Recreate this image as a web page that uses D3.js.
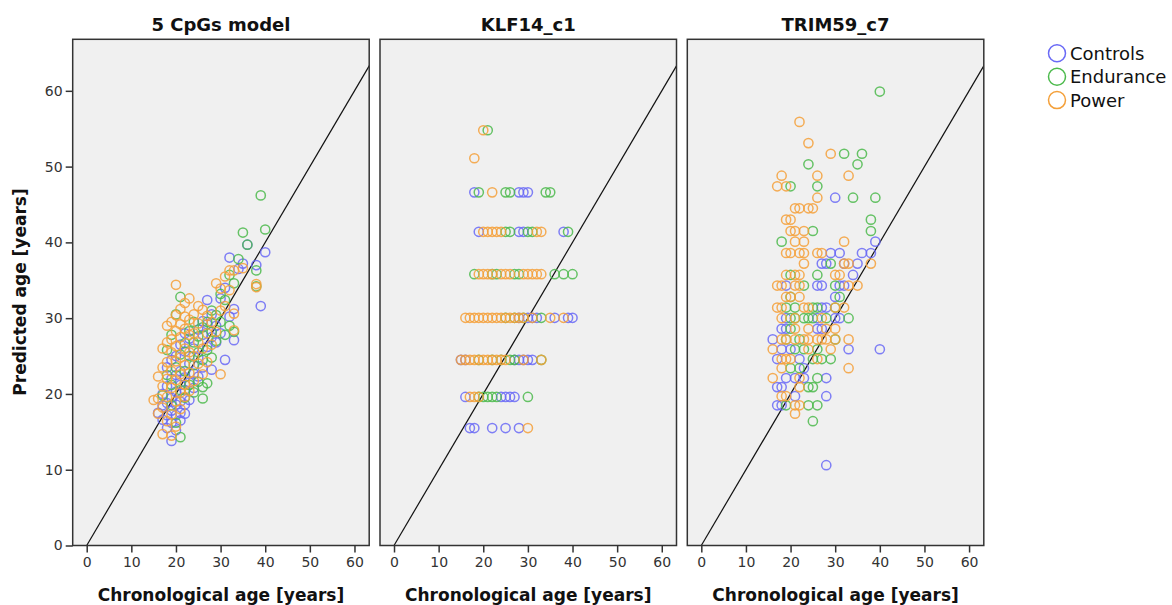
<!DOCTYPE html>
<html><head><meta charset="utf-8">
<script src="https://cdn.jsdelivr.net/npm/d3@7/dist/d3.min.js"></script>
<style>body{margin:0;background:#fff}svg{display:block}</style>
</head><body>
<svg id="chart" width="1172" height="605"></svg>
<script>
const panelTitles = ["5 CpGs model", "KLF14_c1", "TRIM59_c7"];
const groups = ["Controls", "Endurance", "Power"];
const groupColors = ["#6a6af6", "#4cba4c", "#f4a03a"];
const xTicks = [0, 10, 20, 30, 40, 50, 60];
const yTicks = [0, 10, 20, 30, 40, 50, 60];
const xLabel = "Chronological age [years]";
const yLabel = "Predicted age [years]";

// Panel 1: [age, predicted]
const cpgControls = [[16,17.5],[17,16.6],[17,18.5],[17,20],[18,15.5],[18,17.2],[18,18.8],[18,21],[18,23.5],[19,13.8],[19,16.2],[19,17.8],[19,19.5],[19,22],[19,24.5],[20,15.2],[20,17.2],[20,18.6],[20,20.3],[20,22.5],[20,25],[21,16.5],[21,17.5],[21,19],[21,21.2],[21,23],[21,26.5],[22,17.4],[22,18.6],[22,20.5],[22,22.2],[22,25.6],[22,28],[23,19.2],[23,21.5],[23,24],[23,27.3],[24,20.8],[24,22.7],[24,26],[25,22.3],[25,24.8],[25,28.5],[26,23.5],[26,27.8],[26,29.6],[27,26.2],[27,29.2],[27,32.4],[28,23.2],[28,27.5],[28,30.5],[29,26.8],[29,29],[30,32.6],[30,28],[31,24.5],[31,34],[32,38],[32,30.2],[33,27.1],[33,31.2],[34,36.5],[35,37.2],[36,39.7],[38,37],[39,31.6],[40,38.7]];
const cpgEndurance = [[17,19.8],[18,22.5],[18,25.8],[19,18.5],[19,21.2],[19,27.8],[20,16.2],[20,23.5],[20,30.5],[21,14.3],[21,20.5],[21,25.2],[21,32.8],[22,19.5],[22,23],[22,26.7],[23,21.2],[23,25],[23,28.3],[24,20.2],[24,23.8],[24,26.8],[24,29.5],[25,21.6],[25,25.5],[25,27.6],[26,19.4],[26,20.9],[26,24.5],[26,28.8],[27,21.4],[27,25.8],[27,29.5],[28,24.8],[28,28.2],[28,31],[29,27],[29,30.4],[30,29.5],[30,33.2],[31,32.4],[31,27.8],[32,35.7],[32,29],[33,28.2],[33,34.6],[34,37.8],[35,41.3],[36,39.7],[38,36.3],[38,34.2],[39,46.2],[40,41.7]];
const cpgPower = [[15,19.2],[16,17.4],[16,19.4],[16,22.3],[17,14.7],[17,18.2],[17,21],[17,23.5],[17,26],[18,16.4],[18,19.6],[18,22],[18,24.2],[18,26.8],[18,29],[19,14.5],[19,17.3],[19,20.8],[19,23],[19,25.5],[19,27.2],[19,29.5],[20,15.7],[20,19],[20,21.8],[20,24.3],[20,26.3],[20,28.3],[20,30.4],[20,34.4],[21,18],[21,20.2],[21,22.6],[21,24.8],[21,27.5],[21,29.2],[21,31.2],[22,19.6],[22,21.2],[22,23.8],[22,26],[22,28.6],[22,30.2],[22,32],[23,20.4],[23,22.8],[23,25.5],[23,27.8],[23,29.8],[23,32.6],[24,21.7],[24,25],[24,28],[24,30.5],[25,24],[25,26.8],[25,29.3],[25,31.6],[26,22.6],[26,26],[26,31.1],[27,24.2],[27,28],[27,30.3],[28,26.5],[28,29.5],[29,34.6],[29,28.2],[30,22.6],[30,31],[30,33.9],[31,31.6],[31,35.5],[32,36.3],[32,33.7],[33,30.6],[33,28.4],[33,36.3],[35,36.6],[38,34.5],[38,34.1]];

// Panels 2 and 3: [predicted level, [ages]]
const klfControls = [[46.6,[18,28,29,30]],[41.4,[19,28,29,38]],[30.05,[28,30,31,32,36,39,40]],[24.5,[15,16,27,28,29,30,31]],[19.6,[16,24,25,26,27]],[15.5,[17,18,22,25,28]]];
const klfEndurance = [[54.8,[21]],[46.6,[19,25,26,34,35]],[41.4,[25,26,30,31,39]],[35.8,[18,22,23,27,28,36,38,40]],[30.05,[25,27,29,33]],[24.5,[19,22,24,26,27,33]],[19.6,[19,20,21,22,23,30]]];
const klfPower = [[54.8,[20]],[51.1,[18]],[46.6,[22]],[41.4,[20,21,22,23,24,32,33]],[35.8,[19,20,21,22,24,25,26,29,30,31,32,33]],[30.05,[16,17,18,19,20,21,22,23,24,25,26,27,28,29,31,35,38]],[24.5,[15,16,17,18,19,20,21,22,23,24,25,29,33]],[19.6,[17,18,19]],[15.5,[30]]];

const trimControls = [[45.9,[30]],[40.1,[39]],[38.6,[29,31,36,38]],[37.2,[27,28,32,35]],[35.7,[34]],[34.3,[19,26,27,31,32]],[32.8,[30]],[31.4,[27,28]],[30.0,[19,26,30,31]],[28.6,[18,19,26,27]],[27.2,[16]],[25.9,[18,20,33,40]],[24.6,[17,22]],[23.4,[23]],[22.1,[19,21,23,28]],[20.9,[17,18]],[19.7,[21,28]],[18.5,[17,18]],[10.6,[28]]];
const trimEndurance = [[59.9,[40]],[51.7,[32,36]],[50.3,[24,35]],[47.4,[20,26]],[45.9,[34,39]],[43.0,[38]],[41.5,[25,38]],[40.1,[18]],[37.2,[29]],[35.7,[20,26]],[34.3,[23,30]],[32.8,[20,31]],[31.4,[19,21,25,26,30]],[30.0,[20,21,23,24,25,28,33]],[28.6,[20]],[27.2,[19,22,30]],[25.9,[21,23,26]],[24.6,[25,27,29]],[23.4,[20,22]],[22.1,[26]],[20.9,[24,25]],[18.5,[19,24,26]],[16.4,[25]]];
const trimPower = [[55.9,[22]],[53.1,[24]],[51.7,[29]],[48.8,[18,26,33]],[47.4,[17,19]],[45.9,[26]],[44.5,[21,22,24,25]],[43.0,[19,20]],[41.5,[20,21,23]],[40.1,[21,23,32]],[38.6,[19,20,22,23,26,27]],[37.2,[23,32,33,38]],[35.7,[19,21,22,30,31]],[34.3,[17,18,21,22,33,35]],[32.8,[19,20,22]],[31.4,[17,18,23,24,30,32]],[30.0,[18,21,27]],[28.6,[21,24,28,30]],[27.2,[18,19,21,23,24,26,27,28,30,33]],[25.9,[16,24,29]],[24.6,[18,19,20,26]],[23.4,[18,33]],[22.1,[16,22]],[20.9,[22]],[19.7,[18,19]],[18.5,[21,22]],[17.4,[21]]];

const rowsToPairs = rows => rows.flatMap(([p, ages]) => ages.map(a => [a, p]));
const panelData = [
  [cpgControls, cpgEndurance, cpgPower],
  [rowsToPairs(klfControls), rowsToPairs(klfEndurance), rowsToPairs(klfPower)],
  [rowsToPairs(trimControls), rowsToPairs(trimEndurance), rowsToPairs(trimPower)]
];

const svg = d3.select("#chart");
const font = "'DejaVu Sans', Verdana, sans-serif";
const panelW = 296.5, panelTop = 39.3, panelBottom = 545.5, panelStep = 307.3, firstLeft = 72.7;
const x = d3.scaleLinear().domain([-3.14, 63.3]).range([0, panelW]);
const y = d3.scaleLinear().domain([0, 66.8]).range([panelBottom, panelTop]);

panelTitles.forEach((title, i) => {
  const left = firstLeft + i * panelStep;
  const g = svg.append("g").attr("transform", `translate(${left},0)`);
  const clipId = "clip" + i;
  g.append("clipPath").attr("id", clipId).append("rect")
    .attr("x", 0).attr("y", panelTop).attr("width", panelW).attr("height", panelBottom - panelTop);
  g.append("rect").attr("x", 0).attr("y", panelTop).attr("width", panelW).attr("height", panelBottom - panelTop)
    .attr("fill", "#f0f0f0");

  const plot = g.append("g").attr("clip-path", `url(#${clipId})`);
  // identity reference line
  plot.append("line")
    .attr("x1", x(0)).attr("y1", y(0)).attr("x2", x(70)).attr("y2", y(70))
    .attr("stroke", "#111").attr("stroke-width", 1.2);

  panelData[i].forEach((pts, gi) => {
    plot.append("g").selectAll("circle").data(pts).join("circle")
      .attr("cx", d => x(d[0])).attr("cy", d => y(d[1])).attr("r", 4.6)
      .attr("fill", "none").attr("stroke", groupColors[gi])
      .attr("stroke-width", 1.5).attr("stroke-opacity", 0.85);
  });

  g.append("rect").attr("x", 0).attr("y", panelTop).attr("width", panelW).attr("height", panelBottom - panelTop)
    .attr("fill", "none").attr("stroke", "#333").attr("stroke-width", 1.5);

  const xAxis = g.append("g").attr("transform", `translate(0,${panelBottom})`)
    .call(d3.axisBottom(x).tickValues(xTicks).tickSize(7).tickPadding(5).tickSizeOuter(0));
  xAxis.select(".domain").remove();
  xAxis.selectAll("line").attr("stroke", "#333").attr("stroke-width", 1.5);
  xAxis.selectAll("text").attr("font-family", font).attr("font-size", 14).attr("fill", "#333");

  if (i === 0) {
    const yAxis = g.append("g")
      .call(d3.axisLeft(y).tickValues(yTicks).tickSize(7).tickPadding(3).tickSizeOuter(0));
    yAxis.select(".domain").remove();
    yAxis.selectAll("line").attr("stroke", "#333").attr("stroke-width", 1.5);
    yAxis.selectAll("text").attr("font-family", font).attr("font-size", 14).attr("fill", "#333");
  }

  g.append("text").attr("x", panelW / 2).attr("y", 31).attr("text-anchor", "middle")
    .attr("font-family", font).attr("font-weight", "bold").attr("font-size", 18).attr("fill", "#111")
    .text(title);
  g.append("text").attr("x", panelW / 2).attr("y", 601).attr("text-anchor", "middle")
    .attr("font-family", font).attr("font-weight", "bold").attr("font-size", 17).attr("fill", "#111")
    .text(xLabel);
});

svg.append("text").attr("transform", "translate(26,292) rotate(-90)").attr("text-anchor", "middle")
  .attr("font-family", font).attr("font-weight", "bold").attr("font-size", 17).attr("fill", "#111")
  .text(yLabel);

const legend = svg.append("g");
groups.forEach((name, gi) => {
  const cy = 53.3 + gi * 23.4;
  legend.append("circle").attr("cx", 1057).attr("cy", cy).attr("r", 8.5)
    .attr("fill", "none").attr("stroke", groupColors[gi]).attr("stroke-width", 1.5);
  legend.append("text").attr("x", 1070).attr("y", cy + 6.5)
    .attr("font-family", font).attr("font-size", 18).attr("fill", "#111").text(name);
});
</script>
</body></html>
